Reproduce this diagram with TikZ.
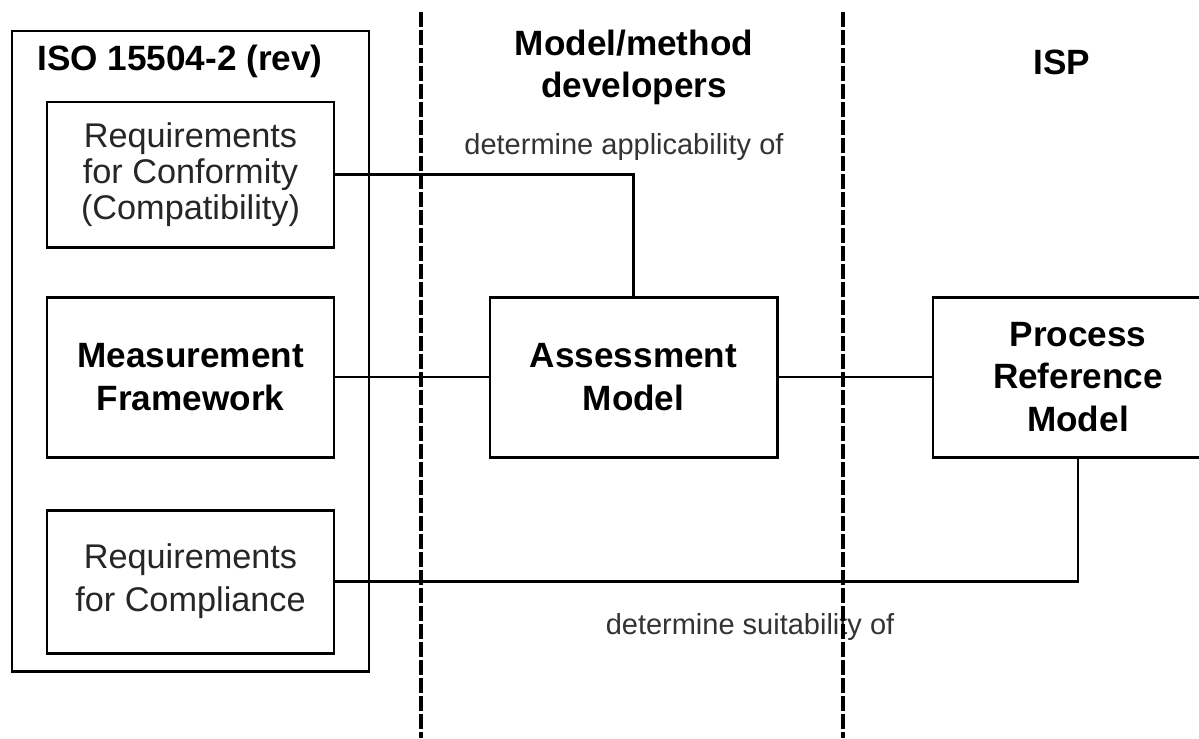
\documentclass[tikz,border=0pt]{standalone}
\usepackage{fontspec}
\setmainfont{Liberation Sans}
\begin{document}
\begin{tikzpicture}[
    x=0.2mm, y=-0.2mm,
    box/.style={draw, line width=1.7pt, minimum width=5.74cm, inner sep=0pt, align=center,
                font=\fontsize{19.5}{20.5}\selectfont, text=black!85},
    boldbox/.style={box, text=black, font=\fontsize{20}{24}\selectfont\bfseries},
    head/.style={font=\fontsize{20}{24}\selectfont\bfseries, align=center},
    note/.style={font=\fontsize{16.5}{18}\selectfont, text=black!80},
    link/.style={line width=1.5pt},
    lane/.style={line width=2.6pt, dash pattern=on 3mm off 0.6mm}
]
  \useasboundingbox (0,0) rectangle (1199,738);

  % ISO 15504-2 column
  \node[draw, line width=1.7pt, minimum width=7.14cm, minimum height=12.8cm] (iso) at (190.5,351) {};
  \node[head] (isotitle) at (180,61) {ISO 15504-2 (rev)};
  \node[box, minimum height=2.9cm] (conf) at (190.5,174.5) {Requirements\\for Conformity\\(Compatibility)};
  \node[boldbox, minimum height=3.2cm] (meas) at (190.5,377) {Measurement\\Framework};
  \node[box, minimum height=2.86cm, font=\fontsize{19.5}{24.5}\selectfont] (compl) at (190.5,581.5) {Requirements\\for Compliance};

  % other columns
  \node[head] (devs) at (634,67) {Model/method\\developers};
  \node[head] (isp) at (1062,62) {ISP};
  \node[boldbox, minimum height=3.2cm] (assess) at (633.5,377) {Assessment\\Model};
  \node[boldbox, minimum width=5.8cm, minimum height=3.2cm] (prm) at (1078,377) {Process\\Reference\\Model};

  % labels
  \node[note] (applic) at (624,147) {determine applicability of};
  \node[note] (suit) at (750,627) {determine suitability of};

  % connectors
  \draw[link] (conf.east) -| (assess.north);
  \draw[link] (meas.east) -- (assess.west);
  \draw[link] (assess.east) -- (prm.west);
  \draw[link] (prm.south) |- (compl.east);

  % dashed lane borders
  \coordinate (laneA) at (421,12);
  \coordinate (laneAend) at (421,738);
  \coordinate (laneB) at (843,12);
  \coordinate (laneBend) at (843,738);
  \draw[lane] (laneA) -- (laneAend);
  \draw[lane] (laneB) -- (laneBend);

\end{tikzpicture}
\end{document}
